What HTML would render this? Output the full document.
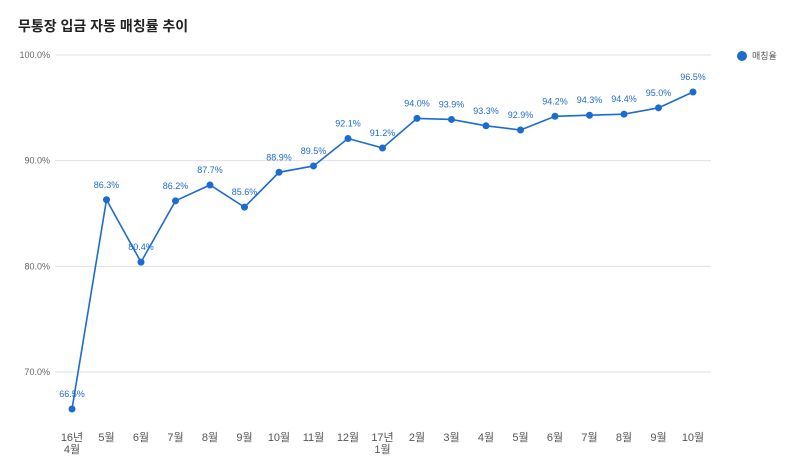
<!DOCTYPE html>
<html><head><meta charset="utf-8"><style>
body{margin:0;background:#fff;width:800px;height:471px;overflow:hidden;font-family:"Liberation Sans","Noto Sans CJK KR",sans-serif}
</style></head><body>
<svg id="chart" width="800" height="471" xmlns="http://www.w3.org/2000/svg" style="font-family:'Liberation Sans','Noto Sans CJK KR',sans-serif">
<text x="18" y="31" font-size="14" font-weight="bold" fill="#222">무통장 입금 자동 매칭률 추이</text>
<g>
<circle cx="742" cy="56" r="5" fill="#1c6bd0"/>
<text x="752" y="59" font-size="9" fill="#555">매칭율</text>
</g>
<g id="grid"></g><g id="xaxis"></g><g id="series"></g>
</svg>
<script>
const categories=[["16년","4월"],["5월"],["6월"],["7월"],["8월"],["9월"],["10월"],["11월"],["12월"],["17년","1월"],["2월"],["3월"],["4월"],["5월"],["6월"],["7월"],["8월"],["9월"],["10월"]];
const values=[66.5,86.3,80.4,86.2,87.7,85.6,88.9,89.5,92.1,91.2,94.0,93.9,93.3,92.9,94.2,94.3,94.4,95.0,96.5];
const yTicks=[70,80,90,100];
const NS="http://www.w3.org/2000/svg";
const yMin=70,yMax=100,yTop=55,yBot=372;
const y=v=>yBot-(v-yMin)/(yMax-yMin)*(yBot-yTop);
const x0=72,x1=693;
const x=i=>x0+i*(x1-x0)/(categories.length-1);
function mk(tag,attrs,parent){const e=document.createElementNS(NS,tag);for(const k in attrs)e.setAttribute(k,attrs[k]);parent.appendChild(e);return e;}
const grid=document.getElementById('grid'),xa=document.getElementById('xaxis'),ser=document.getElementById('series');
yTicks.forEach(t=>{
 const l=mk('line',{x1:55,x2:711,y1:y(t),y2:y(t),stroke:'#e0e0e0','stroke-width':1},grid);
 
 
 const tx=mk('text',{x:50,y:y(t)+3,'text-anchor':'end','font-size':9,fill:'#666'},grid);
 tx.textContent=t.toFixed(1)+'%';
 
 
});
categories.forEach((c,i)=>{
 const t=mk('text',{x:x(i),y:441,'text-anchor':'middle','font-size':11,fill:'#555'},xa);
 
 
 c.forEach((s,j)=>{const ts=mk('tspan',{x:x(i),dy:j?12:0},t);ts.textContent=s;});
});
const line=mk('polyline',{points:values.map((v,i)=>x(i)+','+y(v)).join(' '),fill:'none',stroke:'#1c6bd0','stroke-width':1.6},ser);


values.forEach((v,i)=>{
 const c=mk('circle',{cx:x(i),cy:y(v),r:3.5,fill:'#1c6bd0'},ser);
 
 
 const t=mk('text',{x:x(i),y:y(v)-12,'text-anchor':'middle','font-size':9,fill:'#1c6bd0'},ser);
 t.textContent=v.toFixed(1)+'%';
 
 
});
</script>
</body></html>
